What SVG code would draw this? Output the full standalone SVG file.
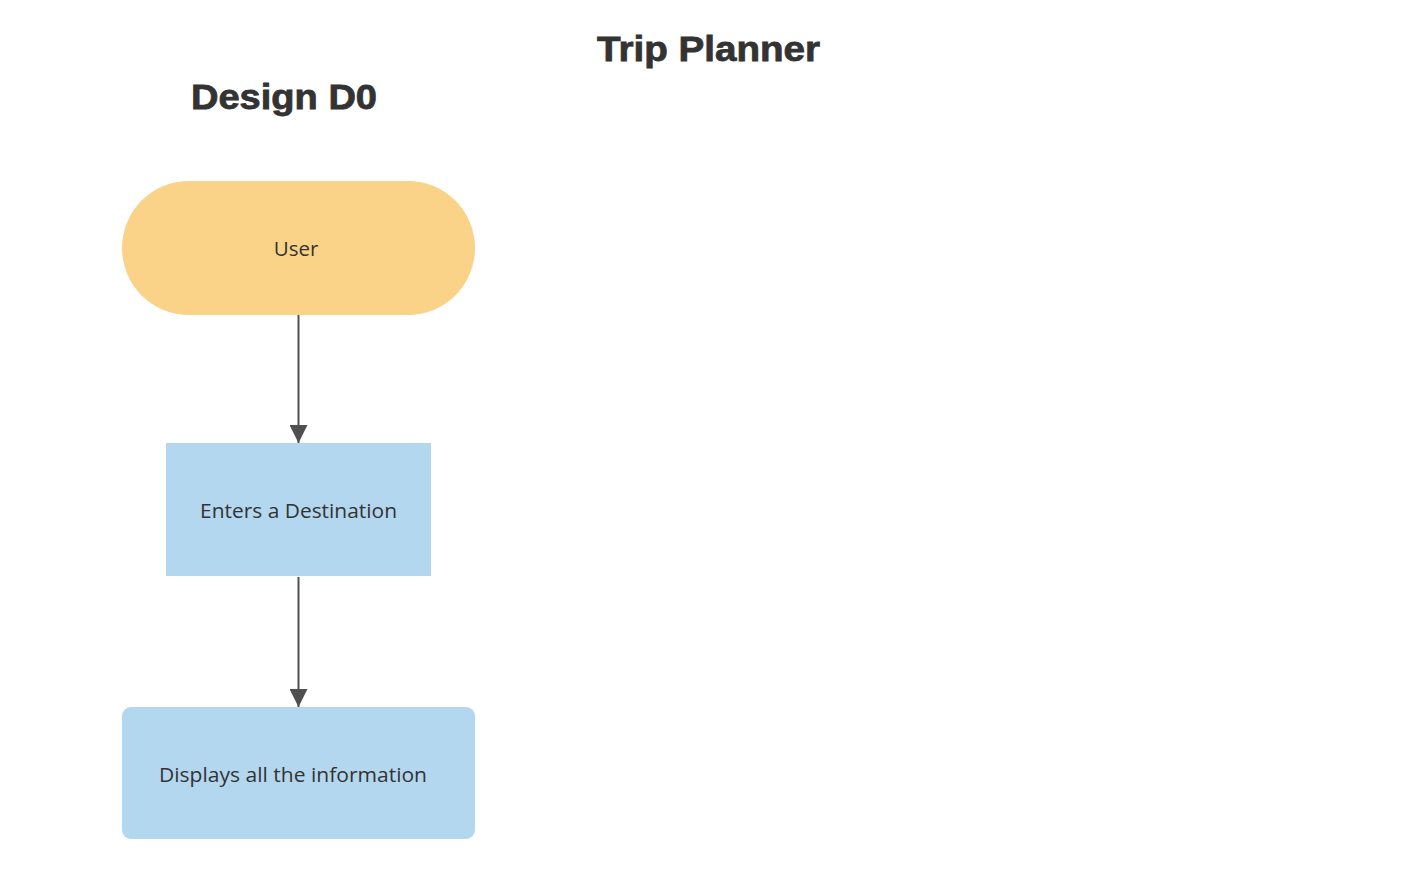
<svg xmlns="http://www.w3.org/2000/svg" width="1404" height="892" viewBox="0 0 1404 892">
<style>
.title{font-family:"Liberation Sans",Arial,sans-serif;font-weight:bold;fill:#333333;stroke:#333333;stroke-width:0.8}
.lbl{font-family:"Open Sans","Noto Sans",sans-serif;font-size:20.5px;fill:#333333;text-anchor:middle}
.edge{stroke:#505050;stroke-width:2;fill:none}
</style>
<defs>
<marker id="arr" markerWidth="18" markerHeight="18" refX="18" refY="9" orient="auto" markerUnits="userSpaceOnUse">
<path d="M0,0 L18,9 L0,18 Z" fill="#505050"/>
</marker>
</defs>
<rect width="1404" height="892" fill="#ffffff"/>
<text class="title" x="597" y="61" font-size="35" textLength="223" lengthAdjust="spacingAndGlyphs">Trip Planner</text>
<text class="title" x="191" y="109" font-size="35" textLength="186" lengthAdjust="spacingAndGlyphs">Design D0</text>
<g id="connectors">
<line class="edge" x1="298.5" y1="315" x2="298.5" y2="443" marker-end="url(#arr)"/>
<line class="edge" x1="298.5" y1="577" x2="298.5" y2="707" marker-end="url(#arr)"/>
</g>
<g id="user">
<rect x="122" y="181" width="353" height="134" rx="67" ry="67" fill="#FAD389"/>
<text class="lbl" x="296" y="256">User</text>
</g>
<g id="enters">
<rect x="166" y="443" width="265" height="133" fill="#B3D7EF"/>
<text class="lbl" x="298.5" y="518" textLength="197" lengthAdjust="spacingAndGlyphs">Enters a Destination</text>
</g>
<g id="displays">
<rect x="122" y="707" width="353" height="132" rx="9" ry="9" fill="#B3D7EF"/>
<text class="lbl" x="293" y="782" textLength="268" lengthAdjust="spacingAndGlyphs">Displays all the information</text>
</g>
</svg>
